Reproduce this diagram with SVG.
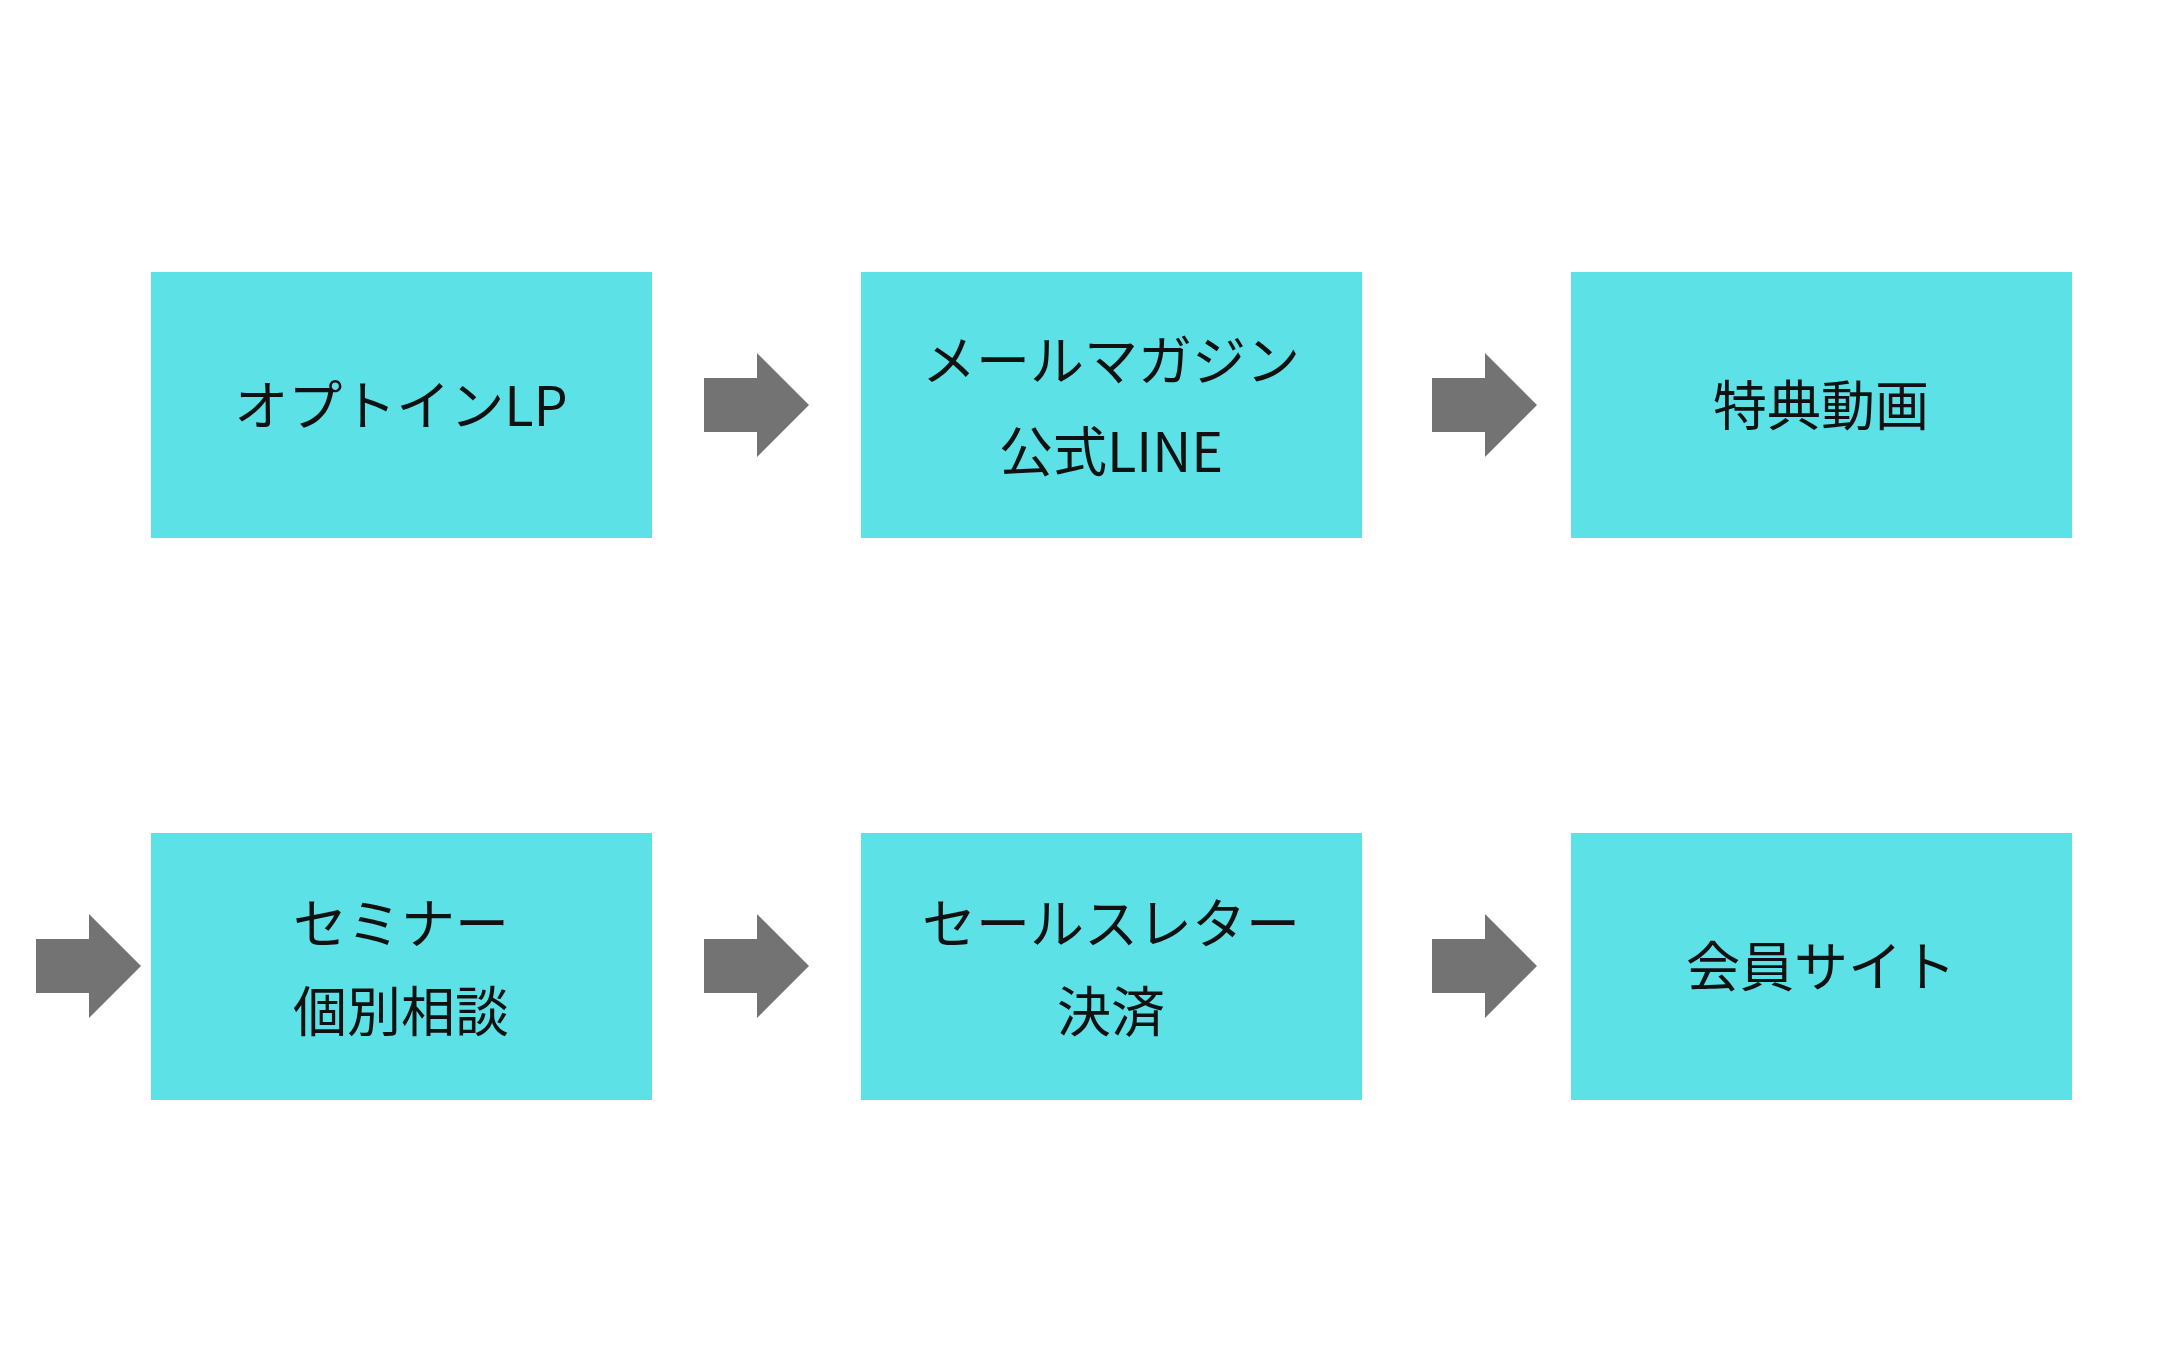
<svg xmlns="http://www.w3.org/2000/svg" width="2184" height="1365" viewBox="0 0 2184 1365">
<style>
.b{fill:#5ce1e6}
.t{font-family:"Noto Sans CJK JP","Noto Sans",sans-serif;font-size:54px;fill:#111;text-anchor:middle;dominant-baseline:central}
.a{fill:#737373}
</style>
<rect width="2184" height="1365" fill="#fff"/>
<defs><path id="arr" d="M0,-27 H53 V-52 L105,0 L53,52 V27 H0 Z"/></defs>
<g id="n1"><rect class="b" x="151" y="272" width="501" height="266"/><text class="t" x="401" y="402">オプトインLP</text></g>
<g id="n2"><rect class="b" x="861" y="272" width="501" height="266"/><text class="t" x="1111" y="357">メールマガジン</text><text class="t" x="1111" y="448">公式LINE</text></g>
<g id="n3"><rect class="b" x="1571" y="272" width="501" height="266"/><text class="t" x="1821" y="402">特典動画</text></g>
<g id="n4"><rect class="b" x="151" y="833" width="501" height="267"/><text class="t" x="401" y="920">セミナー</text><text class="t" x="401" y="1008">個別相談</text></g>
<g id="n5"><rect class="b" x="861" y="833" width="501" height="267"/><text class="t" x="1111" y="920">セールスレター</text><text class="t" x="1111" y="1008">決済</text></g>
<g id="n6"><rect class="b" x="1571" y="833" width="501" height="267"/><text class="t" x="1821" y="963">会員サイト</text></g>
<g id="connectors">
<use href="#arr" class="a" x="704" y="405"/>
<use href="#arr" class="a" x="1432" y="405"/>
<use href="#arr" class="a" x="36" y="966"/>
<use href="#arr" class="a" x="704" y="966"/>
<use href="#arr" class="a" x="1432" y="966"/>
</g>
</svg>
